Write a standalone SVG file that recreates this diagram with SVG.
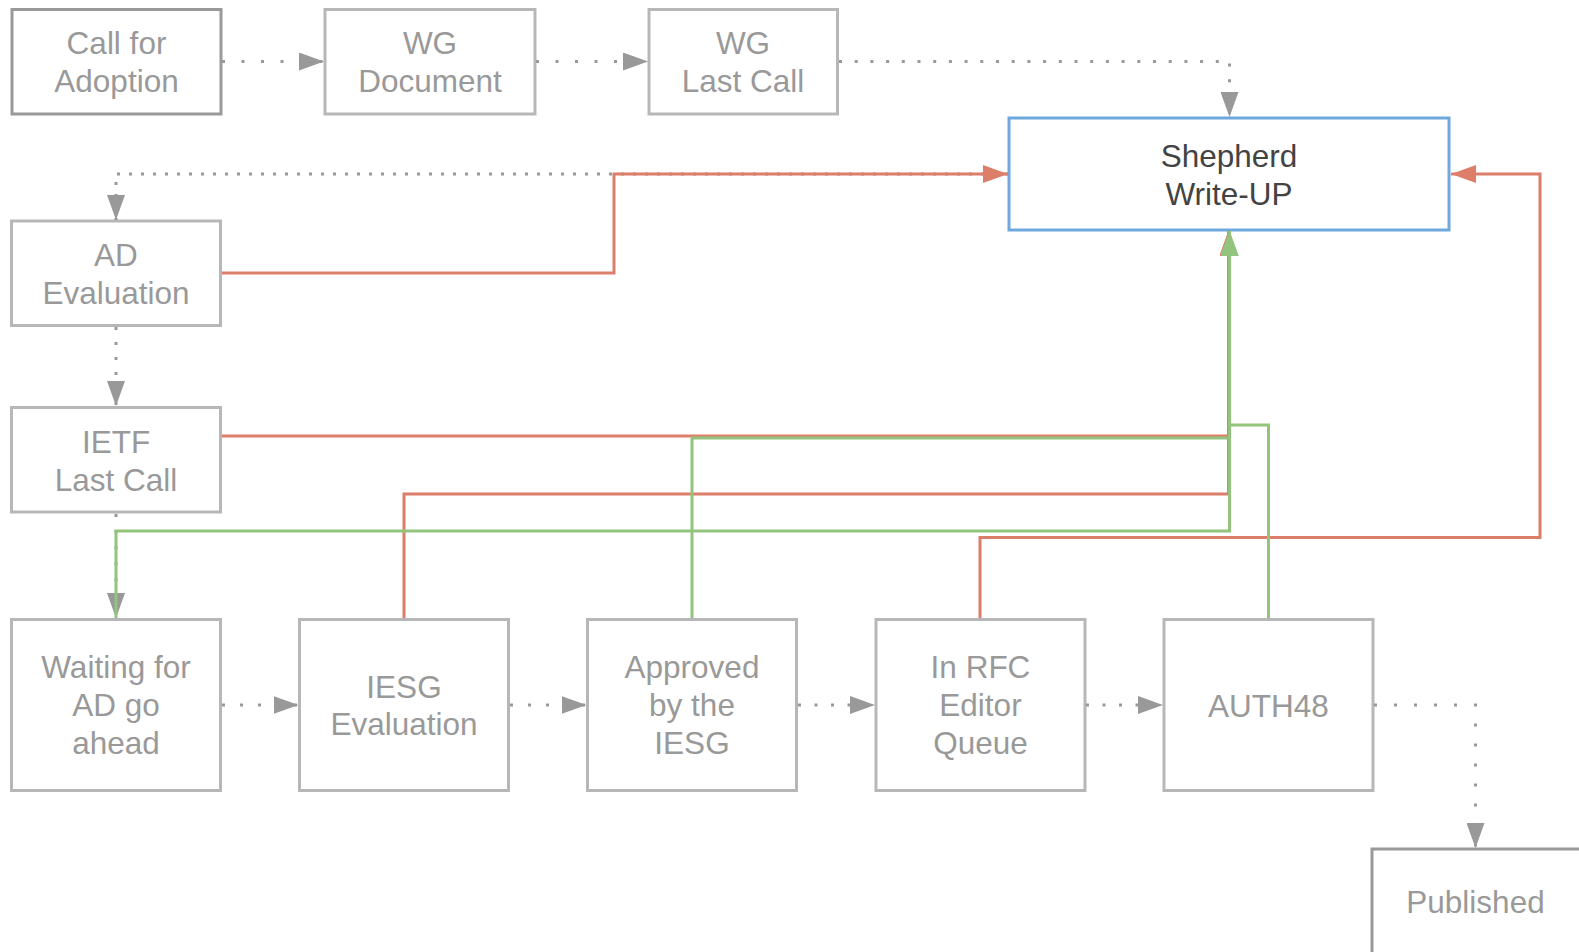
<svg xmlns="http://www.w3.org/2000/svg" width="1579" height="952" viewBox="0 0 1579 952">
  <style>
    .box { fill: #ffffff; stroke: #b7b7b7; stroke-width: 3; }
    .box.dark { stroke: #999999; }
    .box.blue { stroke: #6fa8dc; }
    .lbl { font-family: "Liberation Sans", Arial, sans-serif; font-size: 31.5px; fill: #999999; text-anchor: middle; }
    .lbl.dark { fill: #434343; }
    .flow { fill: none; stroke: #999999; stroke-width: 3; stroke-dasharray: 3 13; }
    .back { fill: none; stroke: #dd7e6b; stroke-width: 3; }
    .fwd { fill: none; stroke: #93c47d; stroke-width: 3; }
  </style>
  <defs>
    <marker id="arrow-gray" markerUnits="userSpaceOnUse" markerWidth="25" markerHeight="18" refX="25" refY="9" orient="auto">
      <path d="M0,0 L25,9 L0,18 z" fill="#999999"/>
    </marker>
    <marker id="arrow-red" markerUnits="userSpaceOnUse" markerWidth="25" markerHeight="18" refX="25" refY="9" orient="auto">
      <path d="M0,0 L25,9 L0,18 z" fill="#dd7e6b"/>
    </marker>
    <marker id="arrow-green" markerUnits="userSpaceOnUse" markerWidth="25" markerHeight="18" refX="25" refY="9" orient="auto">
      <path d="M0,0 L25,9 L0,18 z" fill="#93c47d"/>
    </marker>
  </defs>

  <rect width="1579" height="952" fill="#ffffff"/>

  <!-- nodes -->
  <g id="call-for-adoption">
    <rect class="box dark" x="12" y="9.5" width="209" height="104.5"/>
    <text class="lbl" x="116.5" y="54">Call for</text>
    <text class="lbl" x="116.5" y="91.5">Adoption</text>
  </g>
  <g id="wg-document">
    <rect class="box" x="325" y="9.5" width="210" height="104.5"/>
    <text class="lbl" x="430" y="54">WG</text>
    <text class="lbl" x="430" y="91.5">Document</text>
  </g>
  <g id="wg-last-call">
    <rect class="box" x="649" y="9.5" width="188.5" height="104.5"/>
    <text class="lbl" x="743" y="54">WG</text>
    <text class="lbl" x="743" y="91.5">Last Call</text>
  </g>
  <g id="shepherd-write-up">
    <rect class="box blue" x="1009" y="118" width="440" height="112"/>
    <text class="lbl dark" x="1229" y="166.5">Shepherd</text>
    <text class="lbl dark" x="1229" y="204.5">Write-UP</text>
  </g>
  <g id="ad-evaluation">
    <rect class="box" x="11.5" y="221" width="209" height="104.5"/>
    <text class="lbl" x="116" y="266">AD</text>
    <text class="lbl" x="116" y="303.5">Evaluation</text>
  </g>
  <g id="ietf-last-call">
    <rect class="box" x="11.5" y="407.5" width="209" height="104.5"/>
    <text class="lbl" x="116" y="452.5">IETF</text>
    <text class="lbl" x="116" y="490.5">Last Call</text>
  </g>
  <g id="waiting-for-ad">
    <rect class="box" x="11.5" y="619.5" width="209" height="171"/>
    <text class="lbl" x="116" y="678">Waiting for</text>
    <text class="lbl" x="116" y="716">AD go</text>
    <text class="lbl" x="116" y="754">ahead</text>
  </g>
  <g id="iesg-evaluation">
    <rect class="box" x="299.5" y="619.5" width="209" height="171"/>
    <text class="lbl" x="404" y="697.5">IESG</text>
    <text class="lbl" x="404" y="735">Evaluation</text>
  </g>
  <g id="approved-by-iesg">
    <rect class="box" x="587.5" y="619.5" width="209" height="171"/>
    <text class="lbl" x="692" y="678">Approved</text>
    <text class="lbl" x="692" y="716">by the</text>
    <text class="lbl" x="692" y="754">IESG</text>
  </g>
  <g id="rfc-editor-queue">
    <rect class="box" x="876" y="619.5" width="209" height="171"/>
    <text class="lbl" x="980.5" y="678">In RFC</text>
    <text class="lbl" x="980.5" y="716">Editor</text>
    <text class="lbl" x="980.5" y="754">Queue</text>
  </g>
  <g id="auth48">
    <rect class="box" x="1164" y="619.5" width="209" height="171"/>
    <text class="lbl" x="1268.5" y="716.5">AUTH48</text>
  </g>
  <g id="published">
    <rect class="box dark" x="1372" y="849" width="240" height="140"/>
    <text class="lbl" x="1475.5" y="913">Published</text>
  </g>

  <!-- connectors -->
  <g id="connectors">
    <!-- main flow (dotted) -->
    <path class="flow" style="stroke-dasharray:3 16.5" d="M222,61.5 H324" marker-end="url(#arrow-gray)"/>
    <path class="flow" style="stroke-dasharray:3 16.5" d="M536,61.5 H648" marker-end="url(#arrow-gray)"/>
    <path class="flow" style="stroke-dasharray:3 12.7" d="M839,61.5 H1229.5 V117" marker-end="url(#arrow-gray)"/>
    <path class="flow" style="stroke-dasharray:3 9" d="M1008,174 H116 V220" marker-end="url(#arrow-gray)"/>
    <path class="flow" style="stroke-dasharray:3 12" d="M116,327 V406" marker-end="url(#arrow-gray)"/>
    <path class="flow" d="M116,514 V618" marker-end="url(#arrow-gray)"/>
    <path class="flow" style="stroke-dasharray:3 15" d="M222,705 H298.5" marker-end="url(#arrow-gray)"/>
    <path class="flow" style="stroke-dasharray:3 15" d="M510,705 H586.5" marker-end="url(#arrow-gray)"/>
    <path class="flow" style="stroke-dasharray:3 13.5" d="M798,705 H875" marker-end="url(#arrow-gray)"/>
    <path class="flow" style="stroke-dasharray:3 13.5" d="M1086,705 H1163" marker-end="url(#arrow-gray)"/>
    <path class="flow" style="stroke-dasharray:3 17" d="M1374,705 H1475.5 V848" marker-end="url(#arrow-gray)"/>

    <!-- returns to the shepherd write-up -->
    <path class="back" d="M222,273 H614 V174 H1008" marker-end="url(#arrow-red)"/>
    <path class="back" d="M222,436 H1228.5 V231" marker-end="url(#arrow-red)"/>
    <path class="back" d="M404,618 V494 H1228.5 V231" marker-end="url(#arrow-red)"/>
    <path class="back" d="M980,618 V537.5 H1540 V174 H1451" marker-end="url(#arrow-red)"/>

    <!-- forward paths to the shepherd write-up -->
    <path class="fwd" d="M692,618 V438 H1229.5 V231" marker-end="url(#arrow-green)"/>
    <path class="fwd" d="M1268.5,618 V425 H1229.5 V231" marker-end="url(#arrow-green)"/>
    <path class="fwd" d="M116,618 V531 H1229.5 V231" marker-end="url(#arrow-green)"/>
  </g>
</svg>
